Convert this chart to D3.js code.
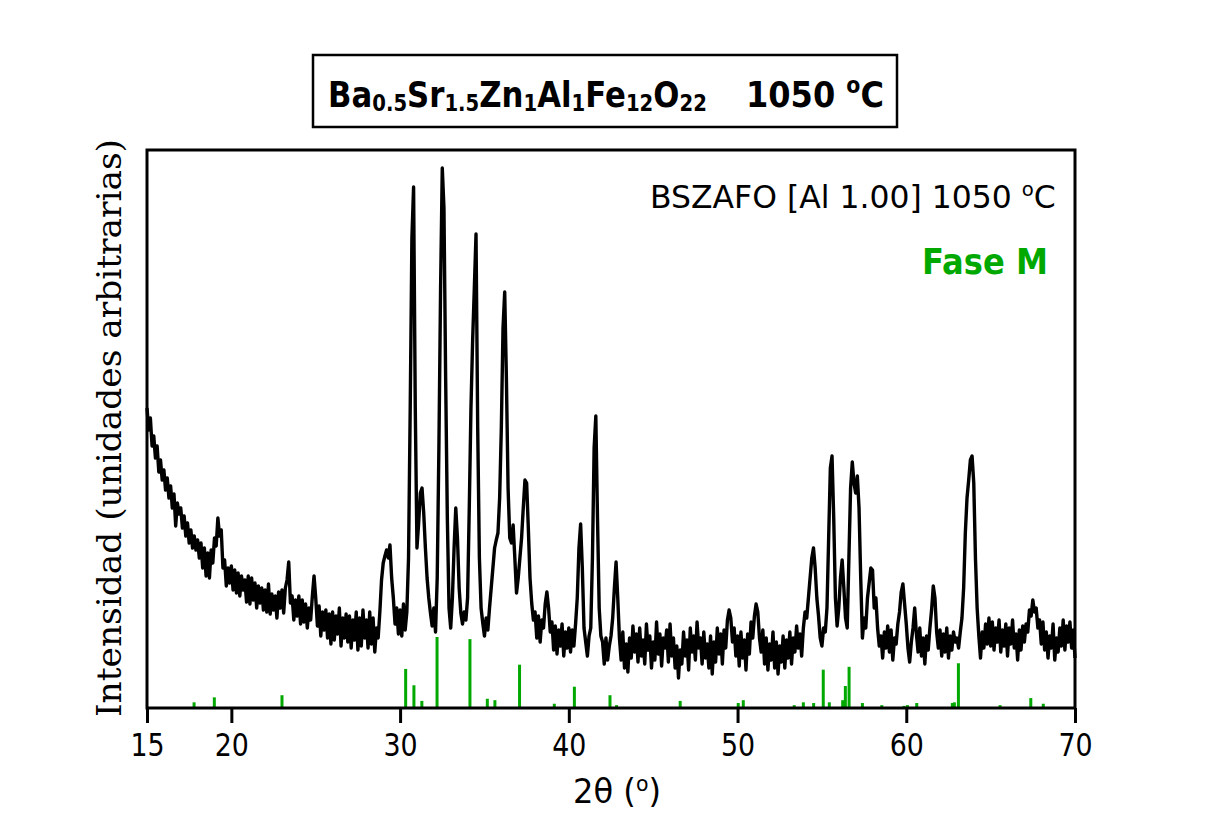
<!DOCTYPE html>
<html>
<head>
<meta charset="utf-8">
<script src="https://cdn.jsdelivr.net/npm/d3@7"></script>
<style>
	body { margin: 0; background: #fff; }
	svg { display: block; }
</style>
</head>
<body>
<div class="graphic"></div>
<script>
// 2theta grid of the scan
var angleStart = 15, angleStep = 0.1;

// intensity, one row per degree (15.0 ... 70.0)
var intensity = [
	300,278,290,262,272,250,262,236,248,228,
	238,218,230,210,222,200,214,182,205,194,
	200,180,192,172,185,165,178,160,172,158,
	168,150,165,140,160,132,155,130,158,145,
	170,162,190,172,178,140,148,122,140,125,
	142,118,138,115,135,112,132,118,128,106,
	132,104,130,108,125,100,122,105,120,98,
	118,96,124,94,114,98,112,90,116,100,
	118,95,120,128,146,105,112,88,108,92,
	112,84,108,86,104,80,100,88,112,132,
	110,82,102,72,96,78,98,70,94,64,
	96,68,92,74,100,62,90,70,94,66,
	92,60,88,68,96,58,90,62,98,70,
	88,60,96,64,90,56,80,70,96,128,
	145,152,158,150,163,130,110,84,100,74,
	98,72,104,78,96,150,300,470,521,300,
	160,185,215,220,195,160,130,110,95,82,
	100,76,130,260,420,540,500,330,190,100,
	80,110,160,200,170,120,95,84,96,88,
	110,200,300,368,420,474,280,150,100,85,
	72,90,78,100,120,140,160,168,175,210,
	280,380,416,330,220,170,165,183,150,115,
	130,150,170,200,228,225,180,130,105,88,
	96,70,92,66,88,80,104,116,100,76,
	86,58,82,54,78,62,84,52,76,60,
	80,56,78,62,84,110,160,184,140,80,
	66,52,72,80,150,260,292,190,100,72,
	66,44,70,48,62,72,90,120,146,110,
	70,48,76,40,64,36,70,50,82,56,
	74,46,80,52,68,44,84,58,72,40,
	66,48,86,54,74,42,70,60,78,46,
	84,52,70,40,62,30,58,44,76,52,
	68,38,80,56,72,48,86,60,70,44,
	76,50,64,40,72,34,66,46,80,54,
	74,44,78,60,88,98,90,66,80,52,
	72,42,76,50,68,38,74,54,86,70,
	92,104,96,70,56,78,44,70,38,64,
	48,76,40,66,34,62,46,72,40,68,
	50,76,44,70,56,82,60,74,52,80,
	96,90,110,130,150,160,140,110,92,70,
	62,80,76,100,170,240,252,190,110,82,
	100,130,148,120,90,80,150,220,246,225,
	215,232,200,130,70,90,80,110,125,140,
	138,100,110,80,62,72,50,76,60,82,
	56,78,48,70,64,84,96,116,124,104,
	84,60,46,66,80,100,74,56,80,52,
	70,44,72,58,80,98,122,110,76,60,
	78,52,74,56,80,50,72,58,76,66,
	70,60,76,90,120,175,210,228,248,252,
	225,150,100,72,50,76,60,84,64,90,
	62,86,58,80,66,88,56,78,62,84,
	52,80,64,88,60,74,48,78,58,82,
	66,84,76,98,92,108,96,100,80,88,
	64,86,58,76,50,72,60,84,48,70,
	56,80,62,88,58,82,66,86,60,78,
	50
];

// reference pattern, Fase M (relative intensity %)
var stickAngles = [17.79,18.99,23.0,30.33,30.82,31.29,32.19,34.14,35.17,35.62,37.08,39.14,40.33,42.44,42.83,
	46.6,50.04,50.34,53.36,53.9,54.51,55.08,55.44,56.23,56.39,56.61,57.4,58.55,59.87,60.07,60.62,
	62.73,62.85,63.09,65.56,67.38,68.12];
var stickHeights = [8,15,18,55,32,10,100,97,13,11,61,6,30,18,4,
	10,7,11,4,8,7,54,8,11,31,58,7,4,3,4,7,
	7,8,63,4,14,6];

var xTicks = [15,20,30,40,50,60,70];

var formula = [
	{ t: 'Ba', sub: false }, { t: '0.5', sub: true },
	{ t: 'Sr', sub: false }, { t: '1.5', sub: true },
	{ t: 'Zn', sub: false }, { t: '1', sub: true },
	{ t: 'Al', sub: false }, { t: '1', sub: true },
	{ t: 'Fe', sub: false }, { t: '12', sub: true },
	{ t: 'O', sub: false }, { t: '22', sub: true }
];

var width = 1212, height = 838;
var plot = { left: 147, right: 1075, top: 150, bottom: 708 };
var green = '#00a800';
var sans = 'DejaVu Sans, Verdana, sans-serif';

var svg = d3.select('.graphic').append('svg').attr('width', width).attr('height', height);
svg.append('rect').attr('width', width).attr('height', height).attr('fill', '#fff');

var x = d3.scaleLinear().domain([15, 70]).range([plot.left, plot.right]);
var y = d3.scaleLinear().domain([0, 558]).range([plot.bottom, plot.top]);
var ySticks = d3.scaleLinear().domain([0, 100]).range([plot.bottom, plot.bottom - 71]);

// squeeze a text horizontally around its anchor point
function fitWidth(sel, ax, target) {
	var w = sel.node().getBBox().width;
	var k = target / w;
	sel.attr('transform', 'translate(' + ax + ',0) scale(' + k + ',1) translate(' + (-ax) + ',0)');
}

// scan line
var line = d3.line()
	.x(function (d, i) { return x(angleStart + i * angleStep); })
	.y(function (d) { return y(d); });

svg.append('path')
	.datum(intensity)
	.attr('d', line)
	.attr('fill', 'none')
	.attr('stroke', '#000')
	.attr('stroke-width', 3.4)
	.attr('stroke-linejoin', 'round');

// reference sticks
svg.selectAll('.stick')
	.data(stickAngles)
	.enter().append('line')
	.attr('class', 'stick')
	.attr('x1', function (d) { return x(d); })
	.attr('x2', function (d) { return x(d); })
	.attr('y1', ySticks(0))
	.attr('y2', function (d, i) { return ySticks(stickHeights[i]); })
	.attr('stroke', green)
	.attr('stroke-width', 3);

// frame
svg.append('rect')
	.attr('x', plot.left).attr('y', plot.top)
	.attr('width', plot.right - plot.left).attr('height', plot.bottom - plot.top)
	.attr('fill', 'none').attr('stroke', '#000').attr('stroke-width', 3);

// bottom axis
var xAxis = svg.append('g')
	.attr('transform', 'translate(0,' + plot.bottom + ')')
	.call(d3.axisBottom(x).tickValues(xTicks).tickSize(15).tickPadding(10).tickFormat(d3.format('d')));
xAxis.select('.domain').remove();
xAxis.selectAll('line').attr('stroke', '#000').attr('stroke-width', 3);
xAxis.selectAll('text')
	.attr('fill', '#000').attr('font-family', sans).attr('font-size', 32)
	.attr('transform', 'scale(0.84,1)')
	.attr('x', 0).attr('dy', '0.72em');

// x title
var xTitle = svg.append('text')
	.attr('x', 573).attr('y', 803)
	.attr('font-family', sans).attr('font-size', 33);
xTitle.append('tspan').text('2θ (');
xTitle.append('tspan').attr('font-size', 21).attr('dy', -12).text('o');
xTitle.append('tspan').attr('dy', 12).text(')');
fitWidth(xTitle, 573, 88);

// y title
svg.append('text')
	.attr('transform', 'translate(121,428) rotate(-90)')
	.attr('text-anchor', 'middle')
	.attr('font-family', 'DejaVu Serif, serif').attr('font-size', 34)
	.attr('textLength', 578).attr('lengthAdjust', 'spacingAndGlyphs')
	.text('Intensidad (unidades arbitrarias)');

// title box
svg.append('rect')
	.attr('x', 313).attr('y', 55).attr('width', 584).attr('height', 72)
	.attr('fill', '#fff').attr('stroke', '#000').attr('stroke-width', 2.5);

var title = svg.append('text')
	.attr('x', 328).attr('y', 107)
	.attr('font-family', sans).attr('font-weight', 'bold').attr('font-size', 36);
formula.forEach(function (p, i) {
	var ts = title.append('tspan').text(p.t);
	if (p.sub) ts.attr('font-size', 23).attr('dy', 4);
	else if (i > 0) ts.attr('dy', -4);
});
fitWidth(title, 328, 379);

var temp = svg.append('text')
	.attr('x', 746).attr('y', 107)
	.attr('font-family', sans).attr('font-weight', 'bold').attr('font-size', 36);
temp.append('tspan').text('1050 ');
temp.append('tspan').attr('font-size', 23).attr('dy', -14).text('o');
temp.append('tspan').attr('dy', 14).text('C');
fitWidth(temp, 746, 138);

// annotations
var label = svg.append('text')
	.attr('x', 650).attr('y', 208)
	.attr('font-family', sans).attr('font-size', 32);
label.append('tspan').text('BSZAFO [Al 1.00] 1050 ');
label.append('tspan').attr('font-size', 20).attr('dy', -12).text('o');
label.append('tspan').attr('dy', 12).text('C');
fitWidth(label, 650, 406);

var phase = svg.append('text')
	.attr('x', 922).attr('y', 274)
	.attr('font-family', sans).attr('font-weight', 'bold').attr('font-size', 35)
	.attr('fill', green)
	.text('Fase M');
fitWidth(phase, 922, 126);
</script>
</body>
</html>
